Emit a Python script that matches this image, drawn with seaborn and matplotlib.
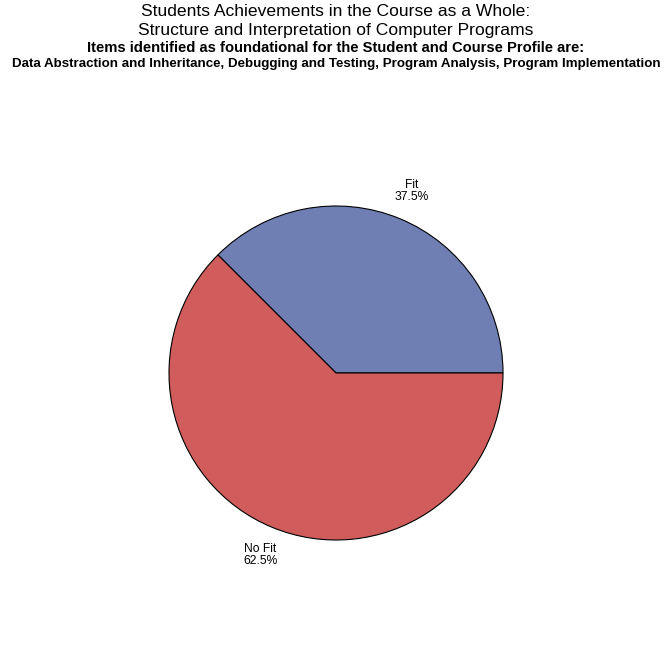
import matplotlib
matplotlib.use("Agg")
import matplotlib.pyplot as plt
import seaborn as sns

categories = ["Fit", "No Fit"]
percents = [37.5, 62.5]
colors = ["#6F7FB3", "#D05C5C"]

title1 = "Students Achievements in the Course as a Whole:"
title2 = "Structure and Interpretation of Computer Programs"
title3 = "Items identified as foundational for the Student and Course Profile are:"
title4 = "Data Abstraction and Inheritance, Debugging and Testing, Program Analysis, Program Implementation"

sns.set_theme(style="white")
plt.rcParams['font.family'] = ['Liberation Sans', 'DejaVu Sans']
plt.rcParams['text.color'] = 'black'

fig = plt.figure(figsize=(6.72, 6.72), dpi=100)
fig.patch.set_facecolor("white")

W = 672.0
cx, cy, r = 336 / W, 1 - 373 / W, 167 / W
ax = fig.add_axes([cx - r, cy - r, 2 * r, 2 * r])
labels = [f"{c}\n{p:.1f}%" for c, p in zip(categories, percents)]
wedges, texts = ax.pie(percents, labels=labels, colors=colors, startangle=0,
                       counterclock=True, labeldistance=1.18, radius=1,
                       wedgeprops=dict(edgecolor="black", linewidth=0.8),
                       textprops=dict(fontsize=8.7, ha="center", va="center",
                                      linespacing=1.05, color="black"))
for t in texts:
    t.set_horizontalalignment("center")
ax.set_xlim(-1, 1)
ax.set_ylim(-1, 1)
ax.set_aspect("equal")
ax.axis("off")

fig.text(0.5, 1 - 11.5 / W, title1, ha="center", va="center", fontsize=12.6, color="black")
fig.text(0.5, 1 - 30.5 / W, title2, ha="center", va="center", fontsize=12.6, color="black")
fig.text(0.5, 1 - 48 / W, title3, ha="center", va="center", fontsize=10.6, fontweight="bold", color="black")
fig.text(0.5, 1 - 64 / W, title4, ha="center", va="center", fontsize=9.6, fontweight="bold", color="black")

fig.savefig("out.png", dpi=100, facecolor="white")
